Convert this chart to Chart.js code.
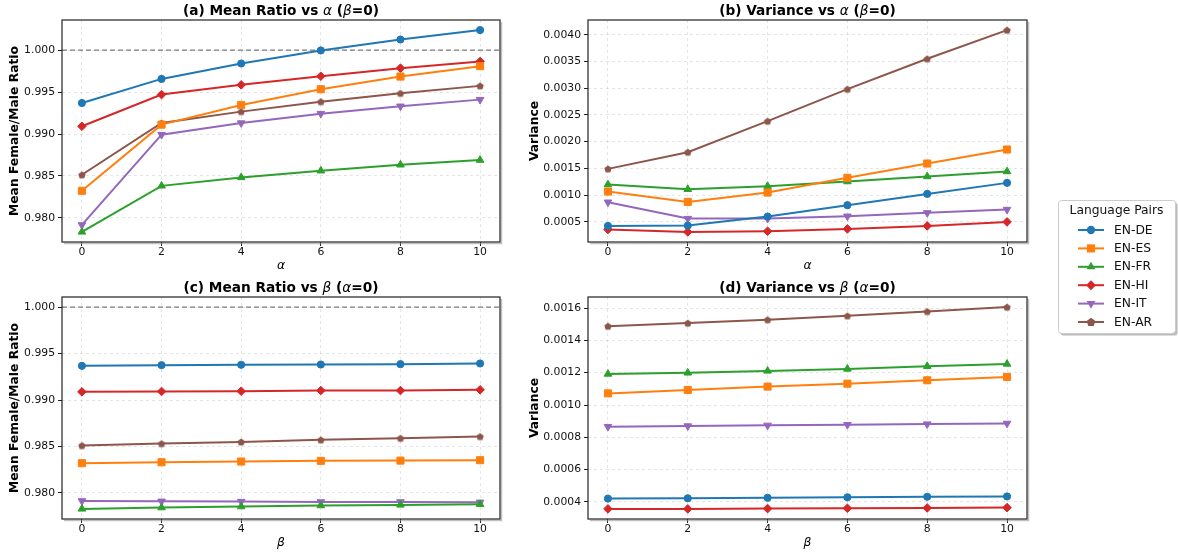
<!DOCTYPE html>
<html>
<head>
<meta charset="utf-8">
<script src="https://cdn.jsdelivr.net/npm/chart.js@4.4.0/dist/chart.umd.min.js"></script>
<style>
  body{margin:0;background:#fff;width:1178px;height:552px;position:relative;overflow:hidden}
  canvas{position:absolute}
</style>
</head>
<body>
<canvas id="pa" width="520" height="276" style="left:0;top:0"></canvas>
<canvas id="pb" width="520" height="276" style="left:520px;top:0"></canvas>
<canvas id="pc" width="520" height="276" style="left:0;top:276px"></canvas>
<canvas id="pd" width="520" height="276" style="left:520px;top:276px"></canvas>
<canvas id="leg" width="126" height="142" style="left:1054px;top:196px"></canvas>
<script>
// ---- data ----
const steps = [0, 2, 4, 6, 8, 10];
const pairs = ["EN-DE", "EN-ES", "EN-FR", "EN-HI", "EN-IT", "EN-AR"];

// rows follow `pairs`
const ratioVsAlpha = [
  [0.99370, 0.99657, 0.99841, 0.99996, 1.00127, 1.00239],
  [0.98323, 0.99112, 0.99347, 0.99534, 0.99685, 0.99809],
  [0.97833, 0.98382, 0.98482, 0.98562, 0.98633, 0.98689],
  [0.99092, 0.99470, 0.99586, 0.99689, 0.99785, 0.99865],
  [0.97916, 0.98992, 0.99131, 0.99243, 0.99331, 0.99410],
  [0.98514, 0.99131, 0.99267, 0.99386, 0.99486, 0.99574]
];
const varVsAlpha = [
  [0.000425, 0.000431, 0.000600, 0.000812, 0.001024, 0.001230],
  [0.001068, 0.000874, 0.001049, 0.001324, 0.001592, 0.001854],
  [0.001199, 0.001111, 0.001168, 0.001255, 0.001349, 0.001442],
  [0.000357, 0.000313, 0.000326, 0.000369, 0.000425, 0.000500],
  [0.000868, 0.000562, 0.000562, 0.000606, 0.000669, 0.000731],
  [0.001492, 0.001804, 0.002384, 0.002983, 0.003551, 0.004087]
];
const ratioVsBeta = [
  [0.99368, 0.99375, 0.99379, 0.99382, 0.99386, 0.99393],
  [0.98320, 0.98330, 0.98338, 0.98345, 0.98348, 0.98352],
  [0.97828, 0.97842, 0.97853, 0.97864, 0.97871, 0.97878],
  [0.99088, 0.99092, 0.99095, 0.99102, 0.99102, 0.99110],
  [0.97914, 0.97910, 0.97907, 0.97903, 0.97903, 0.97899],
  [0.98510, 0.98531, 0.98549, 0.98571, 0.98589, 0.98607]
];
const varVsBeta = [
  [0.000421, 0.000423, 0.000426, 0.000429, 0.000432, 0.000434],
  [0.001072, 0.001093, 0.001114, 0.001132, 0.001153, 0.001174],
  [0.001192, 0.001199, 0.001211, 0.001223, 0.001240, 0.001254],
  [0.000357, 0.000357, 0.000359, 0.000361, 0.000363, 0.000365],
  [0.000866, 0.000870, 0.000874, 0.000878, 0.000882, 0.000886],
  [0.001488, 0.001507, 0.001528, 0.001552, 0.001579, 0.001606]
];
const ratioTicks = [0.980, 0.985, 0.990, 0.995, 1.000];
const varAlphaTicks = [0.0005, 0.0010, 0.0015, 0.0020, 0.0025, 0.0030, 0.0035, 0.0040];
const varBetaTicks = [0.0004, 0.0006, 0.0008, 0.0010, 0.0012, 0.0014, 0.0016];
const parityLine = 1.0;

// ---- styling ----
const FONT = '"DejaVu Sans", "Liberation Sans", sans-serif';
const colors = ["#1f77b4", "#ff7f0e", "#2ca02c", "#d62728", "#9467bd", "#8c564b"];

function pentagon(color, r){
  const s = Math.ceil(r*2 + 2), c = document.createElement("canvas");
  c.width = c.height = s;
  const g = c.getContext("2d");
  g.beginPath();
  for(let i=0;i<5;i++){ const a=-Math.PI/2+i*2*Math.PI/5; g.lineTo(s/2+r*Math.cos(a), s/2+r*Math.sin(a)+0.4); }
  g.closePath(); g.fillStyle=color; g.fill();
  return c;
}
const markers = [
  {style:"circle", r:3.6, rot:0},
  {style:"rect", r:5.0, rot:0},
  {style:"triangle", r:4.4, rot:0},
  {style:"rectRot", r:4.3, rot:0},
  {style:"triangle", r:4.4, rot:180},
  {style:pentagon(colors[5], 3.9), r:4, rot:0}
];

function limits(rows, extra){
  const all = rows.flat().concat(extra||[]);
  const lo = Math.min(...all), hi = Math.max(...all), m = (hi-lo)*0.05;
  return [lo-m, hi+m];
}

function drawPieces(ctx, pieces, cx, cy){
  let w = 0;
  pieces.forEach(p=>{ ctx.font=p[1]; w += ctx.measureText(p[0]).width; });
  let x = cx - w/2;
  ctx.textAlign="left"; ctx.textBaseline="middle";
  pieces.forEach(p=>{ ctx.font=p[1]; ctx.fillText(p[0], x, cy); x += ctx.measureText(p[0]).width; });
}

const decor = {
  id: "decor",
  beforeDatasetsDraw(chart, args, o){
    if(o.ref == null) return;
    const {ctx, chartArea:a} = chart, y = chart.scales.y.getPixelForValue(o.ref);
    ctx.save(); ctx.strokeStyle="rgba(80,80,80,0.75)"; ctx.lineWidth=1.3; ctx.setLineDash([5,3]);
    ctx.beginPath(); ctx.moveTo(a.left, y); ctx.lineTo(a.right, y); ctx.stroke(); ctx.restore();
  },
  afterDraw(chart, args, o){
    const {ctx, chartArea:a} = chart;
    ctx.save();
    // frame
    ctx.strokeStyle="rgba(150,150,150,0.6)"; ctx.lineWidth=1.5;
    ctx.beginPath(); ctx.moveTo(a.left+2, a.bottom+1.5); ctx.lineTo(a.right+1.5, a.bottom+1.5); ctx.lineTo(a.right+1.5, a.top+2); ctx.stroke();
    ctx.strokeStyle="#222"; ctx.lineWidth=1.2;
    ctx.strokeRect(a.left, a.top, a.right-a.left, a.bottom-a.top);
    ctx.fillStyle="#000";
    const B = "bold 13.7px "+FONT, I = "italic 13.7px "+FONT;
    drawPieces(ctx, o.title.map(p=>[p[0], p[1]?I:B]), (a.left+a.right)/2, a.top-8.5);
    drawPieces(ctx, [[o.xTitle, "italic 12.3px "+FONT]], (a.left+a.right)/2, a.bottom+23.5);
    ctx.translate(15, (a.top+a.bottom)/2); ctx.rotate(-Math.PI/2);
    drawPieces(ctx, [[o.yTitle, "bold 12.3px "+FONT]], 0, 0);
    ctx.restore();
  }
};

function makePanel(id, rows, yTicks, digits, geom, deco){
  const [ymin, ymax] = limits(rows, deco.ref!=null ? [deco.ref] : []);
  const [xmin, xmax] = limits([steps]);
  const tickFont = {family:FONT, size:10.8};
  return new Chart(document.getElementById(id), {
    type: "line",
    data: {
      datasets: pairs.map((name, k)=>({
        label: name,
        data: steps.map((s,i)=>({x:s, y:rows[k][i]})),
        borderColor: colors[k], backgroundColor: colors[k],
        borderWidth: 2, tension: 0,
        pointStyle: markers[k].style, pointRadius: markers[k].r, pointRotation: markers[k].rot,
        pointBackgroundColor: colors[k], pointBorderColor: colors[k], pointBorderWidth: 1
      }))
    },
    options: {
      responsive: false, animation: false,
      layout: {padding: {top: geom.top, right: geom.right, left: 0, bottom: 0}},
      plugins: {legend: {display:false}, tooltip: {enabled:false}, decor: deco},
      scales: {
        x: {
          type: "linear", min: xmin, max: xmax,
          afterBuildTicks: s=>{ s.ticks = steps.map(v=>({value:v})); },
          afterFit: s=>{ s.height = geom.bottom; },
          ticks: {font: tickFont, color:"#111", padding: 0, maxRotation: 0, callback: v=>String(v)},
          grid: {color:"rgba(160,160,160,0.35)", lineWidth:0.8, tickColor:"#222", tickLength:4, tickWidth:1},
          border: {display:false, dash:[3,3]}
        },
        y: {
          min: ymin, max: ymax,
          afterBuildTicks: s=>{ s.ticks = yTicks.map(v=>({value:v})); },
          afterFit: s=>{ s.width = geom.left; },
          ticks: {font: tickFont, color:"#111", padding: 3, callback: v=>v.toFixed(digits)},
          grid: {color:"rgba(160,160,160,0.35)", lineWidth:0.8, tickColor:"#222", tickLength:4, tickWidth:1},
          border: {display:false, dash:[3,3]}
        }
      }
    },
    plugins: [decor]
  });
}

const a = "\u03b1", b = "\u03b2";
makePanel("pa", ratioVsAlpha, ratioTicks, 3, {left:62, top:20, right:20, bottom:34},
  {ref: parityLine, title:[["(a) Mean Ratio vs "],[a,1],[" ("],[b,1],["=0)"]], xTitle:a, yTitle:"Mean Female/Male Ratio"});
makePanel("pb", varVsAlpha, varAlphaTicks, 4, {left:68, top:20, right:13, bottom:34},
  {ref: null, title:[["(b) Variance vs "],[a,1],[" ("],[b,1],["=0)"]], xTitle:a, yTitle:"Variance"});
makePanel("pc", ratioVsBeta, ratioTicks, 3, {left:62, top:21, right:20, bottom:33},
  {ref: parityLine, title:[["(c) Mean Ratio vs "],[b,1],[" ("],[a,1],["=0)"]], xTitle:b, yTitle:"Mean Female/Male Ratio"});
makePanel("pd", varVsBeta, varBetaTicks, 4, {left:68, top:21, right:13, bottom:33},
  {ref: null, title:[["(d) Variance vs "],[b,1],[" ("],[a,1],["=0)"]], xTitle:b, yTitle:"Variance"});

// ---- figure legend ----
(function(){
  const g = document.getElementById("leg").getContext("2d");
  const bx=4, by=4, bw=117, bh=133;
  function box(x,y){ g.beginPath(); g.roundRect ? g.roundRect(x,y,bw,bh,3) : g.rect(x,y,bw,bh); }
  g.fillStyle="rgba(120,120,120,0.5)"; box(bx+2.5,by+2.5); g.fill();
  g.fillStyle="#fff"; box(bx,by); g.fill();
  g.strokeStyle="#ccc"; g.lineWidth=1; box(bx+0.5,by+0.5); g.stroke();
  g.fillStyle="#111"; g.textBaseline="middle"; g.textAlign="center";
  g.font="12.3px "+FONT; g.fillText("Language Pairs", bx+bw/2, 211-196);
  pairs.forEach((name,k)=>{
    const y = 230-196 + k*18.4;
    g.strokeStyle=colors[k]; g.lineWidth=2;
    g.beginPath(); g.moveTo(1078-1054, y); g.lineTo(1104-1054, y); g.stroke();
    const mx = 1091-1054, m = markers[k];
    g.fillStyle=colors[k];
    if(typeof m.style !== "string"){ const im=pentagon(colors[k], 4.6); g.drawImage(im, mx-im.width/2, y-im.height/2); }
    else Chart.helpers.drawPoint(g, {pointStyle:m.style, rotation:m.rot, radius:m.r*1.15, borderWidth:0}, mx, y);
    g.fillStyle="#111"; g.textAlign="left";
    g.fillText(name, 1114-1054, y+0.5);
  });
})();
</script>
</body>
</html>
